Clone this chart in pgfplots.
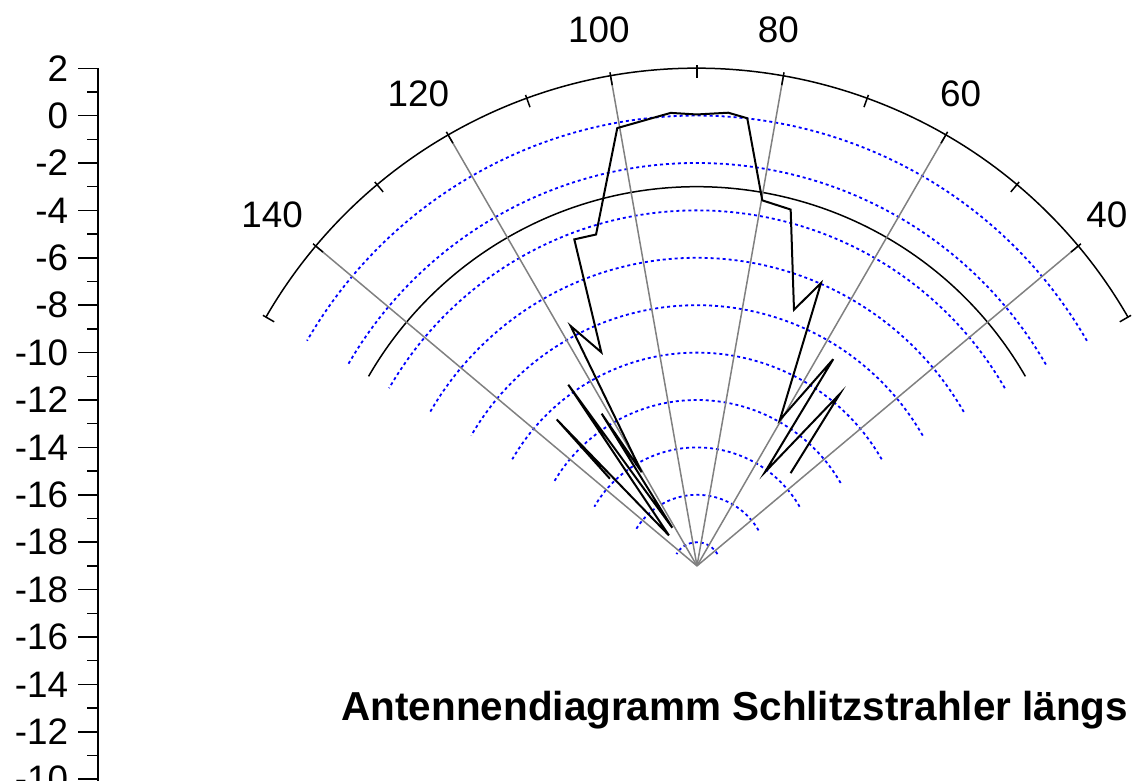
\documentclass[border=0pt]{standalone}
\usepackage{pgfplots}
\usepackage{pgfplotstable}
\pgfplotsset{compat=1.18}
\usepackage{fontspec}
\setmainfont{Liberation Sans}
\definecolor{gridblue}{RGB}{0,0,255}
\definecolor{radgray}{RGB}{128,128,128}
\pgfdeclarelayer{bg}
\pgfsetlayers{bg,main}

% measured antenna pattern: angle (deg), level (dB)
\pgfplotstableread{
ang dB
44.73 -13.44
50.29 -9.56
54.06 -14.11
56.61 -8.55
60.42 -11.91
66.32 -5.97
69.26 -7.44
75.27 -3.45
79.87 -3.33
83.59 0.01
86.05 0.17
90.04 0.05
93.32 0.15
100.32 -0.22
106.94 -4.38
110.59 -4.28
114.12 -9.12
117.77 -7.56
120.52 -14.41
122.05 -11.42
122.89 -17.08
125.38 -9.62
132.55 -17.25
133.76 -10.44
134.94 -13.80
}\antdata

\begin{document}
\begin{tikzpicture}
\begin{axis}[
  name=ax,
  x=11.85bp, y=11.85bp,
  xmin=-25.27, xmax=18.61, ymin=-9.6, ymax=21,
  axis x line=none,
  axis y line*=left,
  clip=false,
  ytick={-9,-7,...,21},
  yticklabels={-10,-12,-14,-16,-18,-18,-16,-14,-12,-10,-8,-6,-4,-2,0,2},
  minor ytick={-8,-6,...,20},
  tick align=outside,
  major tick length=10bp,
  minor tick length=5.5bp,
  every tick/.style={black, line width=0.75bp},
  axis line style={black, line width=0.75bp},
  yticklabel style={font=\fontsize{18.5}{18.5}\selectfont, xshift=-1.5bp},
]
% bounding box corners (whole picture) and polar centre
\coordinate (BL) at (axis cs:-29.41,-9.07);
\coordinate (TR) at (axis cs:18.61,23.88);
\coordinate (C) at (axis cs:0,0);

% angle labels
\node[font=\fontsize{18.5}{18.5}\selectfont] at (axis cs:17.30,14.81) {40};
\node[font=\fontsize{18.5}{18.5}\selectfont] at (axis cs:11.12,19.91) {60};
\node[font=\fontsize{18.5}{18.5}\selectfont] at (axis cs:3.43,22.63) {80};
\node[font=\fontsize{18.5}{18.5}\selectfont] at (axis cs:-4.14,22.63) {100};
\node[font=\fontsize{18.5}{18.5}\selectfont] at (axis cs:-11.76,19.91) {120};
\node[font=\fontsize{18.5}{18.5}\selectfont] at (axis cs:-17.93,14.81) {140};

% antenna pattern
\addplot[black, line width=1bp, mark=none]
  table[x expr={(\thisrow{dB}+19)*cos(\thisrow{ang})},
        y expr={(\thisrow{dB}+19)*sin(\thisrow{ang})}] {\antdata};

% title
\node[font=\fontsize{20.3}{24}\selectfont\bfseries, anchor=base] at (axis cs:1.6,-6.54)
  {Antennendiagramm Schlitzstrahler längs};
\end{axis}

\begin{pgfonlayer}{bg}
% dotted level circles
\foreach \v in {0,-2,...,-18}{
  \draw[gridblue, line width=0.9bp, dash pattern=on 1.5bp off 1.5bp]
    (C) ++(30:{(\v+19)*11.85bp}) arc[start angle=30, end angle=150, radius={(\v+19)*11.85bp}];
}
% -3 dB circle
\draw[black, line width=0.75bp]
  (C) ++(30:{16*11.85bp}) arc[start angle=30, end angle=150, radius={16*11.85bp}];
% radial lines
\foreach \a in {40,60,...,140}{
  \draw[radgray, line width=0.75bp] (C) -- ++(\a:{21*11.85bp});
}
% outer circle
\draw[black, line width=0.75bp]
  (C) ++(30:{21*11.85bp}) arc[start angle=30, end angle=150, radius={21*11.85bp}];
% angle ticks
\foreach \a in {30,40,...,150}{
  \draw[black, line width=0.75bp] (C) ++(\a:{20.6*11.85bp}) -- ++(\a:{0.55*11.85bp});
}
\end{pgfonlayer}

\pgfresetboundingbox
\useasboundingbox (BL) rectangle (TR);
\end{tikzpicture}
\end{document}
